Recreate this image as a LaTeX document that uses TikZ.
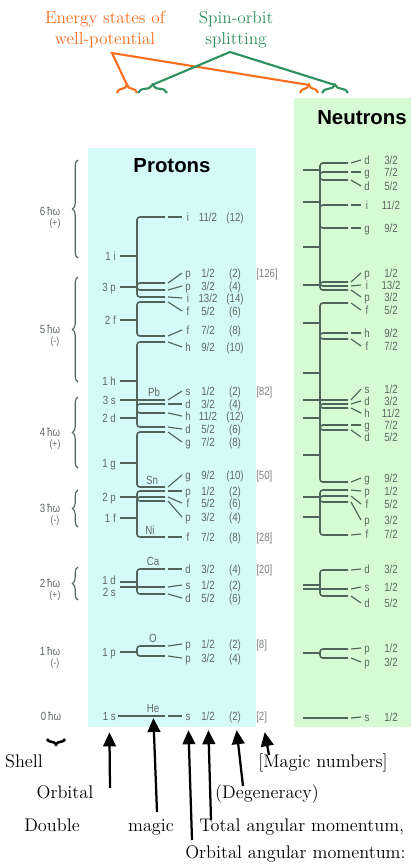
\documentclass[tikz,border=0pt]{standalone}
\usepackage{fontspec}
\usetikzlibrary{arrows.meta,decorations.pathreplacing}
\newfontfamily\lvfont[FakeStretch=0.82]{Liberation Sans}
\newfontfamily\hdfont{Liberation Sans}

\definecolor{pcyan}{RGB}{212,250,250}
\definecolor{ngreen}{RGB}{214,250,212}
\definecolor{lvline}{RGB}{80,100,90}
\definecolor{lvtext}{RGB}{95,105,100}
\definecolor{mgtext}{RGB}{125,130,128}
\definecolor{esorange}{RGB}{250,110,30}
\definecolor{sogreen}{RGB}{45,145,95}

\tikzset{
  lev/.style={draw=lvline, line width=1.1pt},
  conn/.style={draw=lvline, line width=0.8pt},
  lab/.style={font=\lvfont\fontsize{8.4}{10}\selectfont, text=lvtext, inner sep=0pt,
    text height=5.8pt, text depth=0pt},
  title/.style={font=\hdfont\bfseries\fontsize{14.5}{16}\selectfont},
  note/.style={font=\fontsize{12.3}{15}\selectfont, align=center},
  ann/.style={font=\fontsize{13}{15}\selectfont, inner sep=0pt},
  shbrace/.style={draw=lvline, line width=0.8pt, decorate, decoration={brace, amplitude=4pt}},
  topbrace/.style={line width=1.5pt, decorate, decoration={brace, amplitude=6pt}},
  arr/.style={line width=1.6pt, -{Triangle[width=9pt,length=10pt]}}
}

\begin{document}
\begin{tikzpicture}[x=0.025cm, y=-0.025cm]
  \useasboundingbox (0,0) rectangle (412,867);

  % Panels
  \fill[pcyan] (88,148) rectangle (256,727);
  \fill[ngreen] (294,98) rectangle (411,727);
  \node[title] (ptitle) at (172,166) {Protons};
  \node[title] (ntitle) at (362,118) {Neutrons};

  % Top notes
  \node[note, text=esorange] (es) at (105,30) {Energy states of\\well-potential};
  \node[note, text=sogreen] (so) at (236,30) {Spin-orbit\\splitting};
  \coordinate (es-j) at (112,53);
  \coordinate (es-p) at (127,85);
  \coordinate (es-n) at (309,85);
  \coordinate (so-j) at (230,52);
  \coordinate (so-p) at (152,85);
  \coordinate (so-n) at (335,85);
  \draw[esorange, line width=1.5pt] (es-p) -- (es-j) -- (es-n);
  \draw[sogreen, line width=1.5pt] (so-p) -- (so-j) -- (so-n);
  \draw[esorange, topbrace] (117,93) -- (137,93);
  \draw[esorange, topbrace] (300,93) -- (318,93);
  \draw[sogreen, topbrace] (138,93) -- (167,93);
  \draw[sogreen, topbrace] (322,93) -- (348,93);

  % Shells
  \foreach \y/\n/\s in {211/6/+, 329/5/-, 432/4/+, 508/3/-, 583/2/+, 651/1/-} {
    \node[lab] (sh-\n) at (50,\y) {\n\,ħω};
    \node[lab, font=\lvfont\fontsize{7.5}{8}\selectfont] (sp-\n) at (55,\y+11) {(\s)};
  }
  \node[lab] (sh-0) at (51,716) {0\,ħω};
  \foreach \a/\b in {160/258, 277/382, 397/468, 490/527, 567/600}
    \draw[shbrace] (78,\b) -- (78,\a);

  % Protons: orbitals
  \foreach \y/\lb/\nm in {256/1 i/1i, 287/3 p/3p, 320/2 f/2f, 381/1 h/1h, 400/3 s/3s,
      418/2 d/2d, 463/1 g/1g, 497/2 p/2p, 518/1 f/1f, 580/1 d/1d, 592/2 s/2s,
      652/1 p/1p, 716/1 s/1s}
    \node[lab, anchor=east] (po-\nm) at (116,\y) {\lb};
  \foreach \ys/\yu/\yl in {256/217/297, 287/283/290, 320/302/336, 381/342/413,
      418/404/427, 463/432/487, 497/491/501, 518/497/537, 582/569/594, 652/646/656} {
    \draw[lev] (120,\ys) -- (137,\ys);
    \draw[lev, rounded corners=2pt] (137,\ys) |- (165,\yu);
    \draw[lev, rounded corners=2pt] (137,\ys) |- (165,\yl);
  }
  \foreach \ys in {400, 587} \draw[lev] (120,\ys) -- (165,\ys);
  \draw[lev] (118,716) -- (165,716);

  % Protons: levels
  \foreach \ly/\ty/\ltr/\jn/\dg [count=\k] in {217/217/i/11/12, 283/273/p/1/2,
      290/286/p/3/4, 297/298/i/13/14, 302/311/f/5/6, 336/330/f/7/8, 342/347/h/9/10,
      400/391/s/1/2, 404/404/d/3/4, 413/416/h/11/12, 427/429/d/5/6, 432/442/g/7/8,
      487/475/g/9/10, 491/491/p/1/2, 497/503/f/5/6, 501/517/p/3/4, 537/537/f/7/8,
      569/569/d/3/4, 587/585/s/1/2, 594/598/d/5/6, 646/644/p/1/2, 656/658/p/3/4,
      716/716/s/1/2} {
    \draw[conn] (168,\ly) -- (182,\ty);
    \node[lab] (pl-\k) at (188,\ty) {\ltr};
    \node[lab] (pj-\k) at (208,\ty) {\jn/2};
    \node[lab] (pd-\k) at (235,\ty) {(\dg)};
  }
  \foreach \y/\m in {273/126, 391/82, 475/50, 537/28, 569/20, 644/8, 716/2}
    \node[lab, anchor=west, text=mgtext] (mg-\m) at (256,\y) {[\m]};
  \foreach \x/\y/\e in {154/392/Pb, 152/480/Sn, 150/530/Ni, 153/561/Ca, 153/638/O, 153/708/He}
    \node[lab] (el-\e) at (\x,\y) {\e};

  % Neutrons
  \foreach \ys/\yu/\yl in {170/163/180, 202/172/228, 247/205/286, 285/282/290,
      323/303/339, 373/333/408, 418/404/430, 455/425/482, 497/490/502, 517/496/535,
      585/570/596, 653/649/658} {
    \draw[lev] (303,\ys) -- (320,\ys);
    \draw[lev, rounded corners=2pt] (320,\ys) |- (348,\yu);
    \draw[lev, rounded corners=2pt] (320,\ys) |- (348,\yl);
  }
  \foreach \ys in {400, 589, 718} \draw[lev] (303,\ys) -- (348,\ys);
  \foreach \ly/\ty/\ltr/\jn [count=\k] in {163/160/d/3, 172/172/g/7, 180/186/d/5,
      205/205/i/11, 228/228/g/9, 282/273/p/1, 286/285/i/13, 290/297/p/3, 303/310/f/5,
      333/333/h/9, 339/346/f/7, 400/389/s/1, 404/401/d/3, 408/413/h/11, 425/425/g/7,
      430/437/d/5, 482/478/g/9, 490/491/p/1, 496/504/f/5, 502/520/p/3, 535/534/f/7,
      570/569/d/3, 589/587/s/1, 596/603/d/5, 649/648/p/1, 658/662/p/3, 718/717/s/1} {
    \draw[conn] (351,\ly) -- (361,\ty);
    \node[lab] (nl-\k) at (367,\ty) {\ltr};
    \node[lab] (nj-\k) at (391,\ty) {\jn/2};
  }

  % Legend
  \draw[line width=1.8pt, decorate, decoration={brace, amplitude=4pt}] (65,739) -- (47,739);
  \node[ann, anchor=base] (shell) at (24,767) {Shell};
  \node[ann, anchor=base] (orb) at (65,798) {Orbital};
  \node[ann, anchor=base] (dbl) at (52,831) {Double};
  \node[ann, anchor=base] (mag) at (151,831) {magic};
  \node[ann, anchor=base west] (tam) at (199,831) {Total angular momentum,};
  \node[ann, anchor=base west] (oam) at (185,858) {Orbital angular momentum:};
  \node[ann, anchor=base] (deg) at (267,798) {(Degeneracy)};
  \node[ann, anchor=base west] (mgn) at (258,767) {[Magic numbers]};
  \coordinate (a-orb) at (110,788);
  \coordinate (a-mag) at (157,812);
  \coordinate (a-oam) at (192,840);
  \coordinate (a-tam) at (211,820);
  \coordinate (a-deg) at (243,786);
  \coordinate (a-mgn) at (269,755);
  \draw[arr, shorten >=8.5pt] (a-orb) -- (po-1s);
  \draw[arr, shorten >=4pt] (a-mag) -- (el-He);
  \draw[arr, shorten >=7pt] (a-oam) -- (pl-23);
  \draw[arr, shorten >=7pt] (a-tam) -- (pj-23);
  \draw[arr, shorten >=7pt] (a-deg) -- (pd-23);
  \draw[arr, shorten >=8.5pt] (a-mgn) -- (mg-2);
\end{tikzpicture}
\end{document}
